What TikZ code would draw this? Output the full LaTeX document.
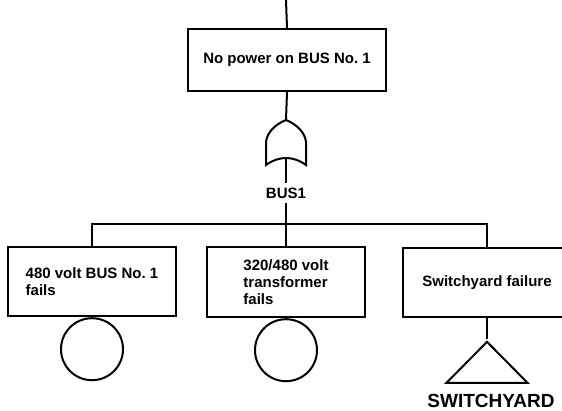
\documentclass[tikz,border=0pt]{standalone}
\usepackage{fontspec}
\setmainfont{Liberation Sans}
\usetikzlibrary{positioning,shapes.geometric,calc}

\begin{document}
\begin{tikzpicture}[x=1pt,y=-1pt,line width=2pt,
  every node/.style={font=\bfseries\fontsize{15}{17}\selectfont,align=left},
  evt/.style={draw,line width=2.4pt,fill=white},
  basic/.style={draw,circle,minimum size=62pt,inner sep=0pt},
  xfer/.style={draw,isosceles triangle,shape border rotate=90,isosceles triangle stretches,minimum width=81pt,minimum height=41pt,inner sep=0pt}]
\useasboundingbox (0,0) rectangle (562,411);
% top event and OR gate
\coordinate (up) at (286,0);
\node[evt,minimum width=198pt,minimum height=62pt] (top) at (287,60) {No power on BUS No.~1};
\coordinate (gate) at (286,120);
\draw[shift={(gate)}] (0,0) .. controls (-10,4) and (-19,12) .. (-20,22) -- (-20,45)
  .. controls (-13,40) and (-6,38) .. (0,38) .. controls (6,38) and (13,40) .. (20,45)
  -- (20,22) .. controls (19,12) and (10,4) .. (0,0) -- cycle;
\coordinate (gatein) at (286,158);
\node (bus1) at (286,193) {BUS1};
\coordinate (bar) at (286,224);
% inputs
\node[evt,minimum width=168pt,minimum height=69pt] (b1) at (92,281.5) {480 volt BUS No.~1\\fails};
\node[evt,minimum width=158pt,minimum height=70pt] (b2) at (286,282) {320/480 volt\\transformer\\fails};
\node[evt,minimum width=168pt,minimum height=69pt] (b3) at (487,282.5) {Switchyard failure};
\node[basic,below=0pt of b1] (e1) {};
\node[basic,below=0pt of b2] (e2) {};
\node[xfer,below=21pt of b3] (swy) {};
\node[font=\bfseries\fontsize{19}{21}\selectfont,inner sep=0pt] (swylbl) at (491,401) {SWITCHYARD};
% connectors
\draw (up) -- (top.north);
\draw (top.south) -- (gate);
\draw (gatein) -- (bus1.north);
\draw (bus1.south) -- (bar);
\draw (b1.north) |- (bar) -| (b3.north);
\draw (bar) -- (b2.north);
\draw (b3.south) -- (swy.north);
\end{tikzpicture}
\end{document}
